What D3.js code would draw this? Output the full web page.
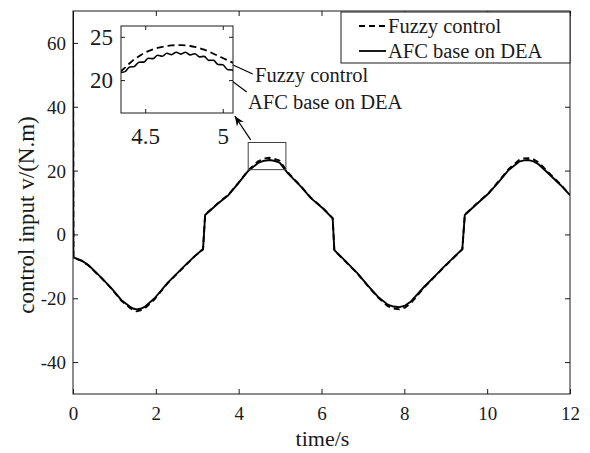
<!DOCTYPE html>
<html>
<head>
<meta charset="utf-8">
<script src="https://cdn.jsdelivr.net/npm/d3@7"></script>
<style>
  body { margin: 0; background: #fff; }
  text { font-family: "Liberation Serif", "Times New Roman", serif; fill: #1a1a1a; }
</style>
</head>
<body>
<script>
// data (time in s, control input in N.m)
var times = [0, 0.01, 0.21, 0.37, 0.69, 0.93, 1.17, 1.37, 1.45, 1.53, 1.63, 1.73,
  1.97, 2.29, 2.70, 2.94, 3.14, 3.19, 3.50, 3.75, 3.99, 4.23,
  4.47, 4.62, 4.75, 4.88, 4.99, 5.19, 5.51, 5.75, 6.03, 6.27, 6.31, 6.55,
  6.87, 7.11, 7.36, 7.60, 7.74, 7.88, 8.02, 8.16, 8.48, 8.72, 8.96, 9.40,
  9.46, 9.72, 10.04, 10.28, 10.52, 10.77, 10.89, 11.00, 11.12, 11.24, 11.48, 11.77, 12.00];

var fuzzy = [70, -7.3, -8.3, -9.7, -13.7, -17.0, -20.8, -23.0, -23.7, -24.1, -23.8, -23.2,
  -20.3, -15.2, -9.9, -6.8, -4.7, 6.2, 9.8, 12.4, 16.1, 20.1,
  22.9, 23.8, 24.0, 23.6, 23.1, 19.4, 15.0, 11.4, 8.3, 5.1, -5.0, -8.1,
  -12.3, -16.0, -19.7, -22.5, -23.2, -23.5, -22.9, -21.5, -16.6, -13.4, -10.2, -4.7,
  6.2, 9.3, 13.0, 16.7, 20.5, 23.3, 23.8, 23.9, 23.5, 22.6, 19.4, 15.7, 12.4];

var afc = [70, -7.2, -8.2, -9.6, -13.6, -16.9, -20.6, -22.6, -23.2, -23.5, -23.3, -22.7,
  -20.0, -15.1, -9.8, -6.8, -4.6, 6.1, 9.7, 12.3, 16.0, 19.9,
  22.4, 23.1, 23.3, 23.0, 22.5, 19.1, 14.9, 11.3, 8.2, 5.0, -4.9, -8.0,
  -12.2, -15.9, -19.5, -22.0, -22.6, -22.8, -22.3, -21.0, -16.4, -13.3, -10.1, -4.6,
  6.1, 9.2, 12.9, 16.5, 20.2, 22.8, 23.2, 23.3, 22.9, 22.0, 19.1, 15.5, 12.3];

// zoomed detail around the first peak
var insetTimes = [4.34, 4.37, 4.40, 4.43, 4.46, 4.49, 4.52, 4.55, 4.58, 4.61,
  4.64, 4.67, 4.70, 4.73, 4.76, 4.79, 4.82, 4.85, 4.88, 4.91,
  4.94, 4.97, 5.00, 5.03, 5.06, 5.09];
var insetFuzzy = [20.95, 21.45, 21.95, 22.4, 22.75, 23.1, 23.35, 23.55, 23.72, 23.85,
  23.94, 24.0, 24.03, 24.03, 24.0, 23.94, 23.84, 23.7, 23.52, 23.3,
  23.05, 22.8, 22.55, 22.3, 22.05, 21.8];
var insetAfc = [20.87, 20.98, 21.52, 21.58, 22.07, 22.08, 22.52, 22.48, 22.87, 22.76,
  23.1, 22.93, 23.22, 23.0, 23.22, 22.91, 23.05, 22.68, 22.74, 22.28,
  22.29, 21.8, 21.77, 21.23, 21.17, 20.63];

var xTicks = [0, 2, 4, 6, 8, 10, 12];
var yTicks = [-40, -20, 0, 20, 40, 60];
var insetXTicks = [4.5, 5];
var insetYTicks = [20, 25];
var seriesNames = ["Fuzzy control", "AFC base on DEA"];

var width = 590, height = 453;
var margin = { left: 73, top: 11, right: 20, bottom: 59 };
var innerWidth = width - margin.left - margin.right;
var innerHeight = height - margin.top - margin.bottom;
var serif = "'Liberation Serif', 'Times New Roman', serif";
var fmt = function (d) { return String(d); }; // plain hyphen minus, no trailing zeros

var svg = d3.select("body").append("svg")
  .attr("width", width)
  .attr("height", height);

var x = d3.scaleLinear().domain([0, 12]).range([0, innerWidth]);
var y = d3.scaleLinear().domain([-50, 70]).range([innerHeight, 0]);

var g = svg.append("g")
  .attr("transform", "translate(" + margin.left + "," + margin.top + ")");

svg.append("clipPath").attr("id", "plotClip")
  .append("rect").attr("width", innerWidth).attr("height", innerHeight);

// labelled axis: serif labels, baseline placed explicitly instead of em offsets
function styleAxis(size, bottomY) {
  return function (sel) {
    sel.attr("font-family", serif);
    sel.select(".domain").remove();
    sel.selectAll("line").attr("stroke", "#1a1a1a");
    var t = sel.selectAll("text").attr("font-size", size).attr("fill", "#1a1a1a")
      .style("font-family", serif);
    if (bottomY != null) t.attr("dy", null).attr("y", bottomY);
    else t.attr("dy", null).attr("dominant-baseline", "central");
  };
}
// mirrored ticks only, no labels
function bareTicks(sel) {
  sel.select(".domain").remove();
  sel.selectAll("text").remove();
  sel.selectAll("line").attr("stroke", "#1a1a1a");
}

g.append("g").attr("transform", "translate(0," + innerHeight + ")")
  .call(d3.axisBottom(x).tickValues(xTicks).tickFormat(fmt).tickSizeInner(-5).tickSizeOuter(0))
  .call(styleAxis("19px", 26));
g.append("g")
  .call(d3.axisTop(x).tickValues(xTicks).tickSizeInner(-5).tickSizeOuter(0))
  .call(bareTicks);
g.append("g")
  .call(d3.axisLeft(y).tickValues(yTicks).tickFormat(fmt).tickSizeInner(-5).tickSizeOuter(0).tickPadding(7))
  .call(styleAxis("19px"));
g.append("g").attr("transform", "translate(" + innerWidth + ",0)")
  .call(d3.axisRight(y).tickValues(yTicks).tickSizeInner(-5).tickSizeOuter(0))
  .call(bareTicks);

var mainData = times.map(function (t, i) { return { t: t, f: fuzzy[i], a: afc[i] }; });

var lineF = d3.line().x(function (d) { return x(d.t); }).y(function (d) { return y(d.f); });
var lineA = d3.line().x(function (d) { return x(d.t); }).y(function (d) { return y(d.a); });

var plot = g.append("g").attr("clip-path", "url(#plotClip)");
plot.append("path").datum(mainData).attr("d", lineF)
  .attr("fill", "none").attr("stroke", "#000").attr("stroke-width", 1.9)
  .attr("stroke-linejoin", "round").attr("stroke-dasharray", "6,4");
plot.append("path").datum(mainData).attr("d", lineA)
  .attr("fill", "none").attr("stroke", "#000").attr("stroke-width", 1.9)
  .attr("stroke-linejoin", "round");

g.append("rect").attr("width", innerWidth).attr("height", innerHeight)
  .attr("fill", "none").attr("stroke", "#1a1a1a").attr("stroke-width", 1);

// zoom rectangle on the first peak
g.append("rect")
  .attr("x", x(4.23)).attr("y", y(28.8))
  .attr("width", x(5.14) - x(4.23)).attr("height", y(20.3) - y(28.8))
  .attr("fill", "none").attr("stroke", "#444").attr("stroke-width", 1);

// axis labels
svg.append("text").attr("x", margin.left + innerWidth / 2 + 1).attr("y", 446)
  .attr("text-anchor", "middle").attr("font-size", "22px").text("time/s");
svg.append("text").attr("transform", "translate(34,215) rotate(-90)")
  .attr("text-anchor", "middle").attr("font-size", "23px").text("control input v/(N.m)");

// legend
var legend = svg.append("g").attr("transform", "translate(341,12)");
legend.append("rect").attr("width", 229).attr("height", 51)
  .attr("fill", "#fff").attr("stroke", "#1a1a1a").attr("stroke-width", 1);
seriesNames.forEach(function (name, i) {
  var ly = 14 + i * 25;
  legend.append("line").attr("x1", 18).attr("x2", 45).attr("y1", ly).attr("y2", ly)
    .attr("stroke", "#000").attr("stroke-width", 1.8)
    .attr("stroke-dasharray", i === 0 ? "6,4" : null);
  legend.append("text").attr("x", 47).attr("y", ly + 7)
    .attr("font-size", "20.5px").text(name);
});

// inset
var ins = { left: 121, top: 26, width: 112, height: 87 };
var xi = d3.scaleLinear().domain([4.344, 5.066]).range([0, ins.width]);
var yi = d3.scaleLinear().domain([16.2, 26.25]).range([ins.height, 0]);
var gi = svg.append("g").attr("transform", "translate(" + ins.left + "," + ins.top + ")");
svg.append("clipPath").attr("id", "insetClip")
  .append("rect").attr("width", ins.width).attr("height", ins.height);
gi.append("rect").attr("width", ins.width).attr("height", ins.height).attr("fill", "#fff");

gi.append("g").attr("transform", "translate(0," + ins.height + ")")
  .call(d3.axisBottom(xi).tickValues(insetXTicks).tickFormat(fmt).tickSizeInner(-4).tickSizeOuter(0))
  .call(styleAxis("23px", 31));
gi.append("g")
  .call(d3.axisTop(xi).tickValues(insetXTicks).tickSizeInner(-4).tickSizeOuter(0))
  .call(bareTicks);
gi.append("g")
  .call(d3.axisLeft(yi).tickValues(insetYTicks).tickFormat(fmt).tickSizeInner(-4).tickSizeOuter(0).tickPadding(8))
  .call(styleAxis("23px"));
gi.append("g").attr("transform", "translate(" + ins.width + ",0)")
  .call(d3.axisRight(yi).tickValues(insetYTicks).tickSizeInner(-4).tickSizeOuter(0))
  .call(bareTicks);

var insetData = insetTimes.map(function (t, i) { return { t: t, f: insetFuzzy[i], a: insetAfc[i] }; });
var ip = gi.append("g").attr("clip-path", "url(#insetClip)");
ip.append("path").datum(insetData)
  .attr("d", d3.line().x(function (d) { return xi(d.t); }).y(function (d) { return yi(d.f); }).curve(d3.curveMonotoneX))
  .attr("fill", "none").attr("stroke", "#000").attr("stroke-width", 1.8).attr("stroke-dasharray", "7,4");
ip.append("path").datum(insetData)
  .attr("d", d3.line().x(function (d) { return xi(d.t); }).y(function (d) { return yi(d.a); }).curve(d3.curveMonotoneX))
  .attr("fill", "none").attr("stroke", "#000").attr("stroke-width", 1.6);
gi.append("rect").attr("width", ins.width).attr("height", ins.height)
  .attr("fill", "none").attr("stroke", "#1a1a1a").attr("stroke-width", 1);

// annotation arrows (positions in main-axis units)
svg.append("defs").append("marker").attr("id", "head")
  .attr("viewBox", "0 0 10 10").attr("refX", 10).attr("refY", 5)
  .attr("markerWidth", 10).attr("markerHeight", 10).attr("markerUnits", "userSpaceOnUse")
  .attr("orient", "auto")
  .append("path").attr("d", "M0,1 L10,5 L0,9 L3,5 Z").attr("fill", "#000");

var arrows = [
  { from: [4.34, 50.25], to: [3.545, 54.95] },
  { from: [4.195, 44.6], to: [3.425, 52.1] },
  { from: [4.29, 29.6], to: [3.906, 37.1] }
];
arrows.forEach(function (a) {
  g.append("line")
    .attr("x1", x(a.from[0])).attr("y1", y(a.from[1]))
    .attr("x2", x(a.to[0])).attr("y2", y(a.to[1]))
    .attr("stroke", "#000").attr("stroke-width", 1.2)
    .attr("marker-end", "url(#head)");
});
g.append("text").attr("x", x(4.394)).attr("y", y(47.75))
  .attr("font-size", "20.5px").text(seriesNames[0]);
g.append("text").attr("x", x(4.225)).attr("y", y(39.3))
  .attr("font-size", "20.5px").text(seriesNames[1]);
</script>
</body>
</html>
